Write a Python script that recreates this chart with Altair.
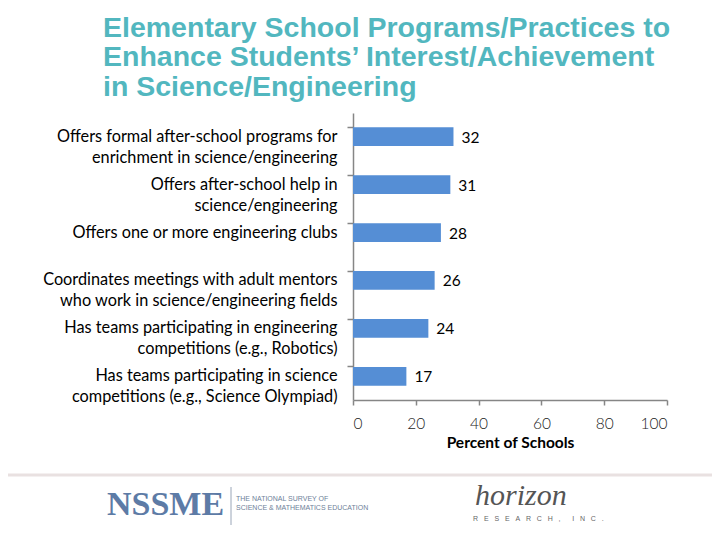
import altair as alt
import pandas as pd

categories = [
    "Offers formal after-school programs for|enrichment in science/engineering",
    "Offers after-school help in|science/engineering",
    "Offers one or more engineering clubs",
    "Coordinates meetings with adult mentors|who work in science/engineering fields",
    "Has teams participating in engineering|competitions (e.g., Robotics)",
    "Has teams participating in science|competitions (e.g., Science Olympiad)",
]
values = [32, 31, 28, 26, 24, 17]
x_ticks = [0, 20, 40, 60, 80, 100]

df = pd.DataFrame({"cat": categories, "pct": values})

W, H = 314, 287

y_enc = alt.Y(
    "cat:N",
    sort=categories,
    scale=alt.Scale(paddingInner=0.61, paddingOuter=0.3),
    axis=alt.Axis(
        title=None,
        labelExpr="split(datum.label, '|')",
        labelFont="Lato",
        labelFontSize=16.3,
        labelColor="#000000",
        labelLineHeight=21,
        labelPadding=10,
        labelLimit=400,
        bandPosition=0,
        tickSize=6,
        tickColor="#868686",
        domainColor="#868686",
        tickWidth=1.5,
        domainWidth=1.5,
    ),
)

x_enc = alt.X(
    "pct:Q",
    scale=alt.Scale(domain=[0, 100], nice=False),
    axis=alt.Axis(
        values=x_ticks,
        title="Percent of Schools",
        titleFont="Lato",
        titleFontSize=15.5,
        titleFontWeight="bold",
        titleColor="#000000",
        titlePadding=4,
        labelFont="Lato",
        labelFontSize=15.5,
        labelFontWeight=300,
        labelColor="#222222",
        labelPadding=11,
        tickSize=5,
        tickColor="#868686",
        domainColor="#868686",
        tickWidth=1.5,
        domainWidth=1.5,
        grid=False,
    ),
)

base = alt.Chart(df)
bars = base.mark_bar(color="#558ED5").encode(x=x_enc, y=y_enc)
labels = base.mark_text(align="left", dx=8, dy=1, font="Lato", fontSize=15.5, color="#000000").encode(
    x="pct:Q", y=alt.Y("cat:N", sort=categories), text="pct:Q"
)

# footer decorations
footer_line = alt.Chart(pd.DataFrame({"a": [0]})).mark_rule(color="#E3D9D9", strokeWidth=3, opacity=0.8).encode(
    x=alt.value(-345), x2=alt.value(367), y=alt.value(362)
)
nssme = alt.Chart(pd.DataFrame({"t": ["NSSME"]})).mark_text(
    font="Liberation Serif", fontSize=34, fontWeight="bold", color="#5D7BA6", align="left", baseline="middle"
).encode(text="t:N", x=alt.value(-246), y=alt.value(392))
sep = alt.Chart(pd.DataFrame({"a": [0]})).mark_rule(color="#9AA6B8", strokeWidth=1).encode(
    x=alt.value(-122), y=alt.value(374), y2=alt.value(412)
)
nssme_sub = alt.Chart(pd.DataFrame({"t": [["THE NATIONAL SURVEY OF", "SCIENCE & MATHEMATICS EDUCATION"]]})).mark_text(
    font="Liberation Sans", fontSize=7, color="#6E7F99", align="left", baseline="middle", lineHeight=9
).encode(text="t:N", x=alt.value(-117), y=alt.value(386))
horizon = alt.Chart(pd.DataFrame({"t": ["horizon"]})).mark_text(
    font="Liberation Serif", fontSize=30, fontStyle="italic", color="#555555", align="left", baseline="alphabetic"
).encode(text="t:N", x=alt.value(122), y=alt.value(392))
nb = "\u00a0\u00a0\u00a0"
research = alt.Chart(pd.DataFrame({"t": [nb.join("RESEARCH,") + nb + nb + nb.join("INC.")]})).mark_text(
    font="Liberation Sans", fontSize=7, color="#666666", align="left", baseline="middle"
).encode(text="t:N", x=alt.value(120), y=alt.value(406))

chart = alt.layer(bars, labels, footer_line, nssme, sep, nssme_sub, horizon, research).properties(
    width=W,
    height=H,
    autosize=alt.AutoSizeParams(type="none"),
    padding={"left": 345, "top": 105, "right": 45, "bottom": 132},
    title=alt.TitleParams(
        text=[
            "Elementary School Programs/Practices to",
            "Enhance Students\u2019 Interest/Achievement",
            "in Science/Engineering",
        ],
        anchor="start",
        frame="group",
        dx=-250,
        offset=12,
        font="Liberation Sans",
        fontSize=28.5,
        fontWeight="bold",
        color="#52B7BF",
        lineHeight=29.5,
    ),
).configure_view(stroke=None)

chart.save("out.html", embed_options={"renderer": "svg", "actions": False})
